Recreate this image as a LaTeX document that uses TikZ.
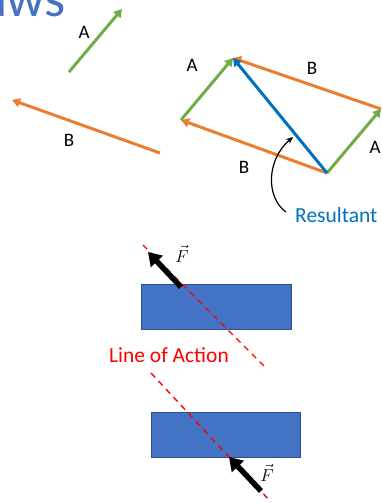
\documentclass[tikz,border=0pt]{standalone}
\usepackage{fontspec}
\setmainfont{Carlito}
\usetikzlibrary{arrows.meta}
\definecolor{cgreen}{HTML}{70AD47}
\definecolor{corange}{HTML}{ED7D31}
\definecolor{cblue}{HTML}{0070C0}
\definecolor{ctitle}{HTML}{4472C4}
\definecolor{cbox}{HTML}{4472C4}
\definecolor{cboxedge}{HTML}{2F528F}
\begin{document}
\begin{tikzpicture}[x=1pt,y=-1pt,
  vec/.style={line width=3pt,-{Triangle[length=8pt,width=9pt]}},
  lbl/.style={font=\fontsize{19}{19}\selectfont,inner sep=0pt},
  force/.style={line width=5.5pt,-{Triangle[length=13pt,width=16pt]}},
  block/.style={fill=cbox,draw=cboxedge,line width=1pt},
  loa/.style={red,line width=1.4pt,dash pattern=on 6pt off 5pt}]
\useasboundingbox (0,0) rectangle (382,503);
% title fragment
\node[anchor=base east,inner sep=0pt,text=ctitle,font=\fontsize{54}{54}\selectfont] (title) at (66,17) {Laws};
% separate vectors
\coordinate (a1) at (69,72); \coordinate (a2) at (122,9);
\coordinate (b1) at (160,153); \coordinate (b2) at (12,100);
\draw[vec,cgreen] (a1) -- (a2);
\draw[vec,corange] (b1) -- (b2);
\node[lbl] (la) at (84,32) {A};
\node[lbl] (lb) at (69,140) {B};
% parallelogram
\coordinate (pl) at (181,120);
\coordinate (pt) at (233,58);
\coordinate (pr) at (381,109);
\coordinate (pb) at (327,173);
\draw[vec,corange] (pb) -- (pl);
\draw[vec,cgreen] (pl) -- (pt);
\draw[vec,corange] (pr) -- (pt);
\draw[vec,cgreen] (pb) -- (pr);
\draw[vec,cblue] (pb) -- (pt);
\node[lbl] (pa1) at (192,65) {A};
\node[lbl] (pb1) at (312,68) {B};
\node[lbl] (pb2) at (244,167) {B};
\node[lbl] (pa2) at (375,147) {A};
\node[anchor=base west,inner sep=0pt,text=cblue,font=\fontsize{21.5}{21.5}\selectfont] (res) at (295,222) {Resultant};
\coordinate (rs) at (286,212);
\coordinate (re) at (293,137);
\draw[line width=1.2pt,-{Stealth[length=7pt,width=6pt]}] (rs) .. controls (266,198) and (266,160) .. (re);
% blocks
\node[block,minimum width=150pt,minimum height=45pt,inner sep=0pt,anchor=north west] (blk1) at (141,284) {};
\node[block,minimum width=149pt,minimum height=45pt,inner sep=0pt,anchor=north west] (blk2) at (151,412) {};
% lines of action
\coordinate (l1s) at (143,245); \coordinate (l1e) at (266,368);
\coordinate (l2s) at (151,373); \coordinate (l2e) at (271,502);
\draw[loa] (l1s) -- (l1e);
\draw[loa] (l2s) -- (l2e);
\node[text=red,font=\fontsize{21.5}{21.5}\selectfont,inner sep=0pt] (loat) at (169,355) {Line of Action};
% forces
\coordinate (f1s) at (181,287); \coordinate (f1e) at (148,252);
\coordinate (f2s) at (261,491); \coordinate (f2e) at (229,457);
\draw[force] (f1s) -- (f1e);
\draw[force] (f2s) -- (f2e);
\node[font=\fontsize{17}{17}\selectfont,inner sep=0pt] (fl1) at (182,254) {$\vec{F}$};
\node[font=\fontsize{17}{17}\selectfont,inner sep=0pt] (fl2) at (267,473) {$\vec{F}$};
\end{tikzpicture}
\end{document}
